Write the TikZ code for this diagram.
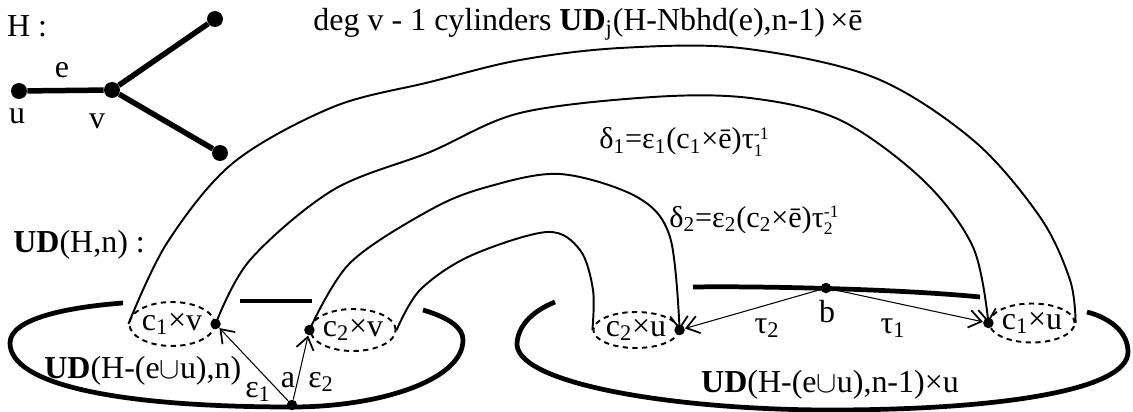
\documentclass[tikz,border=0pt]{standalone}
\usepackage{fontspec}
\setmainfont{Liberation Serif}
\usetikzlibrary{shapes.geometric,arrows.meta}
\newcommand\sbsp[2]{\raisebox{-4.4pt}{\fontsize{10}{13}\selectfont\shortstack[l]{#2\\#1}}}
\begin{document}
\begin{tikzpicture}[x=0.02cm,y=-0.02cm,
  lbl/.style={font=\fontsize{18.2}{21}\selectfont, inner sep=0pt},
  dlbl/.style={font=\fontsize{17.2}{21}\selectfont, inner sep=0pt},
  gdot/.style={circle,fill,inner sep=0pt,minimum size=0.32cm},
  gedge/.style={line width=0.11cm},
  pdot/.style={circle,fill,inner sep=0pt,minimum size=0.21cm},
  tube/.style={line width=1.1pt},
  barb/.style={-{Straight Barb[length=7pt,width=10pt,line width=1pt]}},
  tarrow/.style={line width=0.6pt,barb},
  surf/.style={line width=2.7pt},
  fib/.style={draw,ellipse,dash pattern=on 3pt off 2.5pt,line width=1.1pt,inner sep=0pt,
    font=\fontsize{18.2}{21}\selectfont}]
\useasboundingbox (0,0) rectangle (1133,412);

% graph H
\node[gdot] (u) at (19,91) {};
\node[gdot] (v) at (112,90) {};
\node[gdot] (w1) at (215,19) {};
\node[gdot] (w2) at (220,153) {};
\draw[gedge] (u) -- (v) (v) -- (w1) (v) -- (w2);
\node[lbl] (lH) at (27,26) {H :};
\node[lbl] (le) at (62,70) {e};
\node[lbl] (lu) at (17,116) {u};
\node[lbl] (lv) at (97,121) {v};

\node[lbl,anchor=base] (ltop) at (588,31)
  {deg v - 1 cylinders \textbf{UD}\textsubscript{j}(H-Nbhd(e),n-1)\,×ē};

% fibre ellipses
\node[fib, minimum width=1.68cm, minimum height=0.88cm] (c1v) at (172,324) {c\textsubscript{1}×v};
\node[fib, minimum width=1.66cm, minimum height=0.84cm] (c2v) at (353,330) {c\textsubscript{2}×v};
\node[fib, minimum width=1.64cm, minimum height=0.72cm] (c2u) at (636,330) {c\textsubscript{2}×u};
\node[fib, minimum width=1.68cm, minimum height=0.78cm] (c1u) at (1032,323) {c\textsubscript{1}×u};

% surfaces
\draw[surf] (423,310) .. controls (450,318) and (463,328) .. (463,340)
  .. controls (463,380) and (380,407) .. (292,407)
  .. controls (120,407) and (10,385) .. (10,343)
  .. controls (10,318) and (70,307) .. (123,303);
\draw[surf] (240,301) -- (312,301);
\draw[surf] (555,302) .. controls (530,312) and (517,328) .. (517,345)
  .. controls (520,385) and (680,410) .. (830,410)
  .. controls (1000,410) and (1128,390) .. (1128,352)
  .. controls (1128,332) and (1110,318) .. (1087,312);
\draw[surf] (693,287) .. controls (760,286) and (900,289) .. (980,297);

% tubes
\draw[tube] plot[smooth,tension=0.55] coordinates {(c1v.west) (167,243) (233,163) (333,107) (430,82) (520,60) (620,48) (740,48) (873,77) (973,140) (1040,217) (1070,280) (c1u.east)};
\draw[tube,barb] plot[smooth,tension=0.55] coordinates {(c1v.east) (250,260) (333,190) (430,152) (520,113) (653,97) (750,98) (840,120) (923,180) (973,247) (c1u.west)};
\draw[tube,barb] plot[smooth,tension=0.55] coordinates {(c2v.west) (350,263) (430,210) (487,187) (560,174) (637,197) (670,237) (c2u.east)};
\draw[tube] plot[smooth,tension=0.55] coordinates {(c2v.east) (420,290) (470,256) (547,232) (580,250) (593,290) (c2u.west)};

% base points
\node[pdot] (d1) at (c1v.east) {};
\node[pdot] (d2) at (c2v.west) {};
\node[pdot] (d3) at (c2u.east) {};
\node[pdot] (d4) at (c1u.west) {};
\node[pdot] (a) at (292,405) {};
\node[pdot] (b) at (826,288) {};
\draw[tarrow] (a) -- (d1);
\draw[tarrow] (a) -- (d2);
\draw[tarrow] (b) -- (d3);
\draw[tarrow] (b) -- (d4);

% labels
\node[dlbl,anchor=base] (ld1) at (684,149) {δ\textsubscript{1}=ε\textsubscript{1}(c\textsubscript{1}×ē)τ\sbsp{1}{-1}};
\node[dlbl,anchor=base] (ld2) at (754,227) {δ\textsubscript{2}=ε\textsubscript{2}(c\textsubscript{2}×ē)τ\sbsp{2}{-1}};
\node[lbl,anchor=base west] (lUDH) at (13,252) {\textbf{UD}(H,n) :};
\node[lbl,anchor=base west] (lL) at (44,378) {\textbf{UD}(H-(e$\cup$u),n)};
\node[lbl,anchor=base] (lR) at (830,392) {\textbf{UD}(H-(e$\cup$u),n-1)×u};
\node[lbl] (le1) at (258,392) {ε\textsubscript{1}};
\node[lbl] (la) at (288,380) {a};
\node[lbl] (le2) at (321,382) {ε\textsubscript{2}};
\node[lbl] (lt2) at (767,328) {τ\textsubscript{2}};
\node[lbl] (lt1) at (893,328) {τ\textsubscript{1}};
\node[lbl] (lb) at (827,312) {b};
\end{tikzpicture}
\end{document}
